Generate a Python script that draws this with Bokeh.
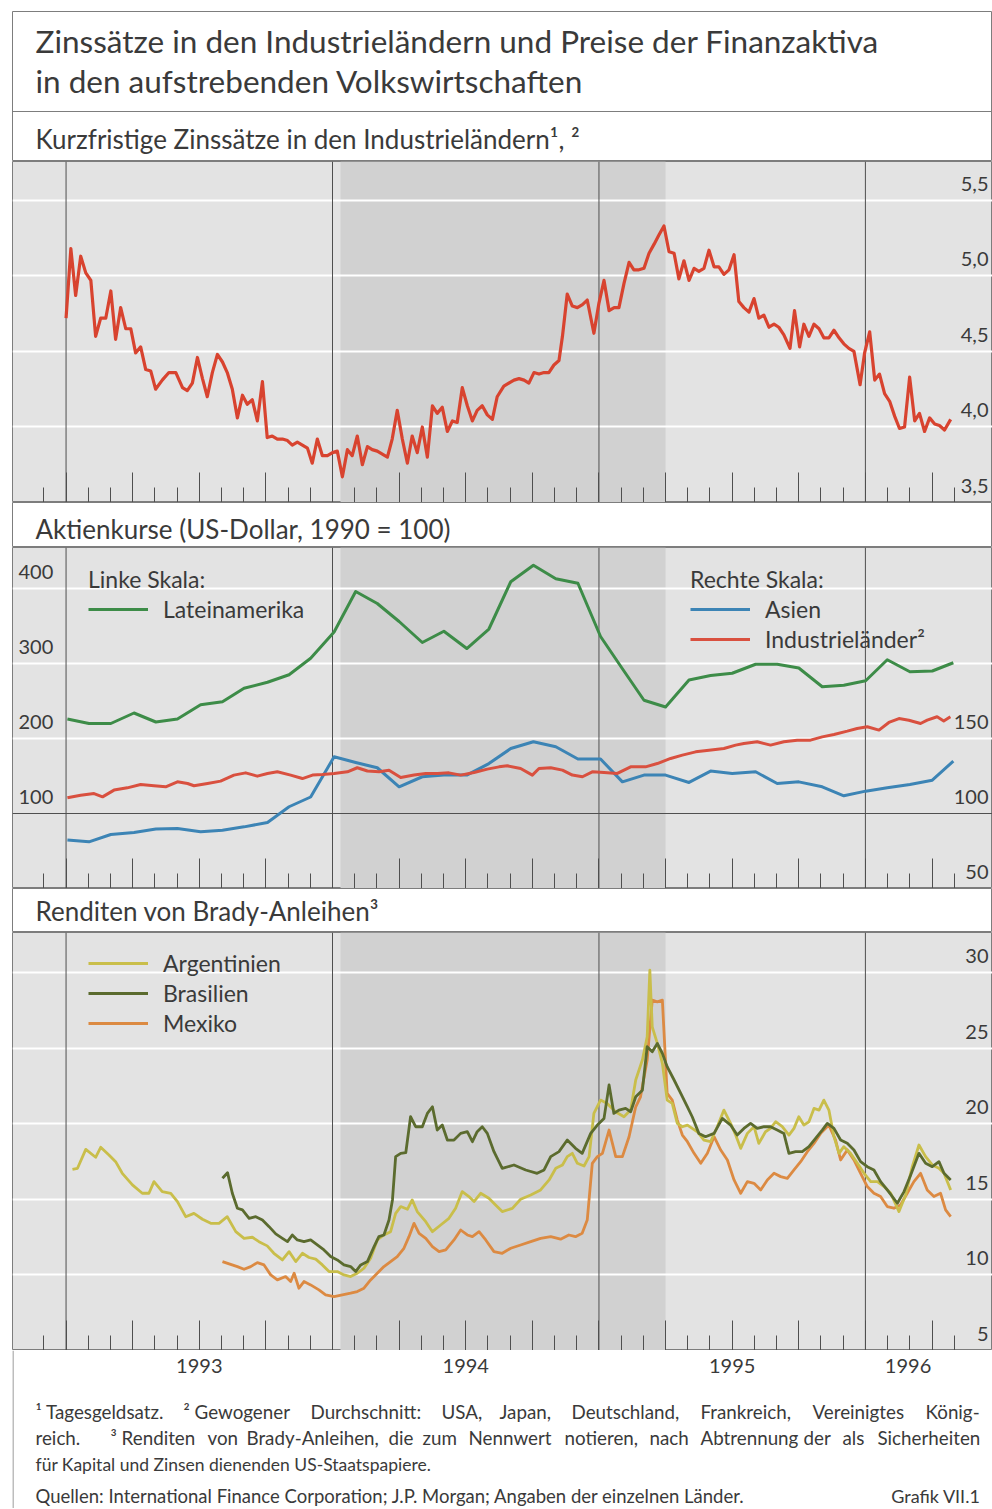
from bokeh.plotting import figure
from bokeh.layouts import column
from bokeh.models import (Range1d, LinearAxis, FixedTicker, Grid, Span, BoxAnnotation,
                          Legend, LegendItem, CustomJSTickFormatter)
from bokeh.core.properties import value
from bokeh.embed import file_html
from bokeh.resources import INLINE

# ---------------- data ----------------
YEARS = [1993, 1994, 1995, 1996]
YEAR_LABELS = ["1993", "1994", "1995", "1996"]
SHADE = (1994.03, 1995.25)

# Panel 1: short-term rates, industrial countries (%)
ZINS_X = [
    1993.000, 1993.018, 1993.036, 1993.055, 1993.074, 1993.093, 1993.111, 1993.130, 1993.149, 1993.168,
    1993.186, 1993.205, 1993.224, 1993.243, 1993.261, 1993.280, 1993.299, 1993.318, 1993.336, 1993.361,
    1993.386, 1993.412, 1993.437, 1993.455, 1993.474, 1993.493, 1993.512, 1993.530, 1993.549, 1993.568,
    1993.587, 1993.605, 1993.624, 1993.643, 1993.662, 1993.680, 1993.699, 1993.718, 1993.737, 1993.755,
    1993.774, 1993.793, 1993.812, 1993.831, 1993.849, 1993.868, 1993.887, 1993.906, 1993.924, 1993.943,
    1993.962, 1993.981, 1994.000, 1994.018, 1994.037, 1994.056, 1994.074, 1994.093, 1994.112, 1994.131,
    1994.149, 1994.168, 1994.187, 1994.206, 1994.224, 1994.243, 1994.262, 1994.281, 1994.299, 1994.318,
    1994.337, 1994.356, 1994.375, 1994.393, 1994.412, 1994.431, 1994.450, 1994.468, 1994.487, 1994.506,
    1994.525, 1994.543, 1994.562, 1994.581, 1994.600, 1994.618, 1994.643, 1994.681, 1994.700, 1994.719,
    1994.737, 1994.756, 1994.775, 1994.794, 1994.812, 1994.831, 1994.850, 1994.863, 1994.881, 1994.900,
    1994.919, 1994.938, 1994.956, 1994.981, 1995.000, 1995.019, 1995.038, 1995.057, 1995.075, 1995.094,
    1995.113, 1995.131, 1995.150, 1995.169, 1995.188, 1995.207, 1995.225, 1995.244, 1995.263, 1995.282,
    1995.300, 1995.319, 1995.338, 1995.357, 1995.375, 1995.394, 1995.413, 1995.432, 1995.450, 1995.469,
    1995.488, 1995.507, 1995.525, 1995.544, 1995.563, 1995.582, 1995.600, 1995.619, 1995.638, 1995.657,
    1995.675, 1995.694, 1995.717, 1995.734, 1995.753, 1995.769, 1995.788, 1995.807, 1995.826, 1995.844,
    1995.863, 1995.882, 1995.901, 1995.919, 1995.938, 1995.957, 1995.980, 1995.997, 1996.016, 1996.035,
    1996.053, 1996.072, 1996.091, 1996.110, 1996.128, 1996.147, 1996.166, 1996.185, 1996.203, 1996.222,
    1996.241, 1996.260, 1996.278, 1996.297, 1996.320]
ZINS_Y = [
    4.72, 5.18, 4.87, 5.13, 5.02, 4.97, 4.60, 4.72, 4.72, 4.90,
    4.58, 4.79, 4.65, 4.65, 4.49, 4.53, 4.38, 4.37, 4.25, 4.31,
    4.36, 4.36, 4.26, 4.24, 4.29, 4.46, 4.32, 4.20, 4.36, 4.48,
    4.43, 4.36, 4.25, 4.06, 4.21, 4.15, 4.18, 4.04, 4.30, 3.93,
    3.94, 3.92, 3.92, 3.91, 3.88, 3.90, 3.88, 3.86, 3.76, 3.92,
    3.81, 3.81, 3.83, 3.84, 3.67, 3.85, 3.81, 3.94, 3.75, 3.87,
    3.85, 3.84, 3.82, 3.80, 3.92, 4.11, 3.92, 3.76, 3.94, 3.83,
    4.00, 3.80, 4.14, 4.09, 4.13, 3.97, 4.04, 4.03, 4.26, 4.14,
    4.04, 4.11, 4.14, 4.08, 4.05, 4.20, 4.27, 4.31, 4.32, 4.31,
    4.29, 4.36, 4.35, 4.36, 4.36, 4.41, 4.44, 4.60, 4.88, 4.80,
    4.79, 4.81, 4.84, 4.62, 4.82, 4.97, 4.77, 4.79, 4.79, 4.95,
    5.09, 5.04, 5.04, 5.05, 5.15, 5.21, 5.27, 5.33, 5.16, 5.15,
    4.98, 5.10, 4.97, 5.05, 5.03, 5.05, 5.17, 5.06, 5.06, 5.01,
    5.04, 5.14, 4.83, 4.79, 4.76, 4.85, 4.72, 4.74, 4.66, 4.68,
    4.66, 4.61, 4.52, 4.77, 4.53, 4.68, 4.60, 4.68, 4.65, 4.59,
    4.59, 4.64, 4.59, 4.55, 4.52, 4.50, 4.28, 4.49, 4.63, 4.31,
    4.35, 4.22, 4.17, 4.07, 3.99, 4.00, 4.33, 4.04, 4.09, 3.97,
    4.06, 4.02, 4.01, 3.98, 4.05]
ZINS_TICKS = [3.5, 4.0, 4.5, 5.0, 5.5]
ZINS_LABELS = ["3,5", "4,0", "4,5", "5,0", "5,5"]

# Panel 2: share prices (US dollar, 1990 = 100), monthly
AKT_X = [
    1993.005, 1993.086, 1993.168, 1993.255, 1993.337, 1993.418, 1993.505, 1993.587, 1993.668, 1993.756,
    1993.837, 1993.918, 1994.006, 1994.087, 1994.168, 1994.250, 1994.337, 1994.418, 1994.504, 1994.587,
    1994.669, 1994.754, 1994.838, 1994.921, 1995.006, 1995.088, 1995.169, 1995.250, 1995.338, 1995.419,
    1995.500, 1995.588, 1995.669, 1995.750, 1995.838, 1995.919, 1996.001, 1996.082, 1996.167, 1996.251,
    1996.330]
LATAM = [
    226, 220, 220, 234, 222, 226, 245, 249, 267, 275,
    285, 307, 342, 396, 380, 356, 328, 343, 320, 346,
    409, 431, 413, 407, 336, 293, 251, 242, 278, 284,
    287, 299, 299, 294, 269, 271, 277, 305, 289, 290,
    301]
ASIEN = [
    82.3, 81.1, 86.0, 87.4, 89.6, 90.0, 87.8, 88.9, 91.1, 94.0,
    104.5, 111.0, 137.8, 134.0, 130.5, 117.8, 124.5, 125.6, 125.6, 133.3,
    143.3, 147.8, 144.5, 136.3, 136.3, 121.1, 125.6, 125.6, 120.7, 128.3,
    126.7, 127.8, 120.0, 121.1, 117.8, 111.8, 114.9, 117.1, 119.3, 122.2,
    134.9]
INDU_X = [
    1993.005, 1993.055, 1993.105, 1993.137, 1993.180, 1993.230, 1993.280, 1993.330, 1993.374, 1993.418,
    1993.456, 1993.480, 1993.531, 1993.580, 1993.630, 1993.674, 1993.718, 1993.756, 1993.793, 1993.843,
    1993.887, 1993.925, 1993.962, 1994.006, 1994.056, 1994.093, 1994.131, 1994.175, 1994.212, 1994.256,
    1994.306, 1994.350, 1994.394, 1994.437, 1994.481, 1994.531, 1994.581, 1994.625, 1994.656, 1994.706,
    1994.750, 1994.775, 1994.819, 1994.863, 1994.900, 1994.938, 1994.975, 1995.019, 1995.069, 1995.119,
    1995.175, 1995.219, 1995.269, 1995.313, 1995.363, 1995.413, 1995.469, 1995.513, 1995.544, 1995.594,
    1995.644, 1995.694, 1995.744, 1995.794, 1995.838, 1995.882, 1995.932, 1995.969, 1996.007, 1996.051,
    1996.088, 1996.126, 1996.163, 1996.207, 1996.232, 1996.269, 1996.294, 1996.319]
INDU_Y = [
    110.5, 112.2, 113.3, 111.1, 115.6, 117.1, 119.3, 118.5, 117.8, 121.1,
    120.0, 118.5, 120.0, 121.6, 125.6, 127.1, 124.9, 126.7, 127.8, 125.6,
    123.3, 125.6, 126.0, 126.7, 127.8, 130.5, 128.3, 127.8, 128.9, 124.0,
    125.6, 126.7, 126.7, 127.1, 125.6, 127.3, 129.6, 131.1, 131.8, 130.0,
    125.6, 130.0, 130.5, 128.9, 125.6, 124.5, 127.8, 127.3, 126.7, 131.1,
    131.1, 133.3, 136.7, 138.9, 141.1, 142.2, 143.3, 145.6, 146.7, 147.8,
    145.6, 147.8, 148.9, 148.9, 151.1, 152.7, 154.9, 156.7, 157.8, 155.6,
    160.7, 163.3, 162.2, 160.0, 162.2, 164.5, 161.7, 164.5]
AKT_LEFT_TICKS = [100, 200, 300, 400]
AKT_LEFT_LABELS = ["100", "200", "300", "400"]
AKT_RIGHT_TICKS = [50, 100, 150]
AKT_RIGHT_LABELS = ["50", "100", "150"]

# Panel 3: Brady bond yields (%)
ARG_X = [
    1993.024, 1993.043, 1993.074, 1993.111, 1993.130, 1993.161, 1993.186, 1993.211, 1993.249, 1993.286,
    1993.311, 1993.330, 1993.361, 1993.393, 1993.418, 1993.449, 1993.480, 1993.512, 1993.543, 1993.574,
    1993.605, 1993.637, 1993.668, 1993.699, 1993.724, 1993.755, 1993.780, 1993.812, 1993.837, 1993.862,
    1993.887, 1993.912, 1993.937, 1993.962, 1993.987, 1994.018, 1994.043, 1994.068, 1994.093, 1994.118,
    1994.143, 1994.168, 1994.193, 1994.218, 1994.237, 1994.256, 1994.281, 1994.299, 1994.318, 1994.350,
    1994.375, 1994.406, 1994.437, 1994.462, 1994.487, 1994.512, 1994.531, 1994.556, 1994.587, 1994.612,
    1994.637, 1994.675, 1994.706, 1994.744, 1994.781, 1994.813, 1994.838, 1994.863, 1994.881, 1994.900,
    1994.919, 1994.944, 1994.963, 1994.981, 1995.006, 1995.031, 1995.062, 1995.094, 1995.119, 1995.138,
    1995.163, 1995.181, 1995.191, 1995.200, 1995.219, 1995.238, 1995.256, 1995.275, 1995.294, 1995.313,
    1995.332, 1995.350, 1995.369, 1995.394, 1995.419, 1995.444, 1995.469, 1995.494, 1995.513, 1995.532,
    1995.557, 1995.582, 1995.600, 1995.625, 1995.644, 1995.663, 1995.688, 1995.713, 1995.732, 1995.750,
    1995.769, 1995.788, 1995.807, 1995.826, 1995.844, 1995.863, 1995.882, 1995.901, 1995.919, 1995.944,
    1995.970, 1995.995, 1996.020, 1996.045, 1996.070, 1996.095, 1996.126, 1996.151, 1996.176, 1996.201,
    1996.226, 1996.251, 1996.276, 1996.295, 1996.320]
ARG_Y = [
    16.98, 17.05, 18.30, 17.78, 18.44, 17.93, 17.49, 16.72, 15.95, 15.40,
    15.40, 16.17, 15.51, 15.40, 14.85, 13.85, 14.07, 13.68, 13.41, 13.41,
    13.85, 12.86, 12.42, 12.49, 12.20, 11.92, 11.43, 10.99, 11.54, 10.88,
    11.43, 11.15, 11.04, 10.66, 10.22, 10.22, 10.00, 9.89, 10.11, 10.44,
    11.10, 12.31, 12.64, 12.86, 14.07, 14.52, 14.34, 14.96, 14.19, 13.52,
    12.86, 13.30, 13.74, 14.41, 15.51, 15.18, 14.85, 15.40, 15.07, 14.63,
    14.19, 14.40, 15.00, 15.29, 15.62, 16.28, 17.05, 17.27, 17.82, 18.04,
    17.38, 17.20, 17.82, 20.68, 21.56, 21.34, 20.79, 20.46, 20.90, 22.89,
    24.21, 25.75, 30.15, 26.41, 25.31, 23.99, 21.56, 21.34, 20.02, 19.80,
    19.91, 19.69, 19.47, 18.92, 18.81, 19.80, 20.90, 20.02, 19.25, 18.37,
    19.36, 19.80, 18.70, 19.47, 19.69, 20.13, 19.80, 19.25, 19.69, 20.46,
    19.91, 20.13, 21.01, 20.90, 21.56, 20.90, 19.14, 18.04, 18.48, 18.04,
    17.38, 16.72, 16.17, 16.17, 15.84, 15.40, 14.19, 15.29, 17.16, 18.59,
    17.82, 17.27, 17.05, 16.72, 15.62]
BRA_X = [
    1993.587, 1993.606, 1993.624, 1993.643, 1993.662, 1993.687, 1993.712, 1993.737, 1993.762, 1993.787,
    1993.812, 1993.831, 1993.849, 1993.868, 1993.893, 1993.918, 1993.943, 1993.968, 1993.993, 1994.018,
    1994.043, 1994.068, 1994.087, 1994.106, 1994.131, 1994.156, 1994.174, 1994.193, 1994.212, 1994.225,
    1994.237, 1994.256, 1994.275, 1994.293, 1994.312, 1994.337, 1994.356, 1994.375, 1994.393, 1994.412,
    1994.431, 1994.456, 1994.481, 1994.506, 1994.525, 1994.543, 1994.562, 1994.581, 1994.606, 1994.637,
    1994.681, 1994.725, 1994.768, 1994.794, 1994.819, 1994.850, 1994.881, 1994.912, 1994.937, 1994.969,
    1994.994, 1995.019, 1995.038, 1995.056, 1995.075, 1995.100, 1995.119, 1995.138, 1995.163, 1995.181,
    1995.200, 1995.219, 1995.238, 1995.256, 1995.282, 1995.307, 1995.332, 1995.350, 1995.375, 1995.400,
    1995.432, 1995.463, 1995.494, 1995.519, 1995.544, 1995.569, 1995.594, 1995.619, 1995.644, 1995.669,
    1995.694, 1995.713, 1995.738, 1995.763, 1995.788, 1995.813, 1995.838, 1995.857, 1995.882, 1995.907,
    1995.932, 1995.957, 1995.982, 1996.007, 1996.032, 1996.057, 1996.082, 1996.120, 1996.145, 1996.170,
    1996.201, 1996.226, 1996.251, 1996.276, 1996.295, 1996.320]
BRA_Y = [
    16.39, 16.76, 15.40, 14.41, 14.30, 13.74, 13.85, 13.63, 13.19, 12.71,
    12.42, 12.20, 12.64, 12.31, 12.20, 12.31, 11.98, 11.65, 11.21, 10.99,
    10.66, 10.55, 10.22, 10.66, 10.88, 11.87, 12.53, 12.64, 13.63, 14.96,
    17.82, 18.04, 18.08, 20.46, 19.80, 19.80, 20.68, 21.12, 19.58, 19.91,
    18.92, 18.92, 19.36, 19.47, 18.81, 19.47, 19.80, 19.36, 18.15, 17.05,
    17.27, 16.94, 16.72, 16.94, 17.82, 18.15, 18.92, 18.37, 18.04, 19.36,
    19.91, 20.35, 22.56, 20.68, 20.90, 21.01, 20.79, 21.78, 22.22, 25.09,
    24.76, 25.31, 24.65, 23.77, 22.89, 22.00, 21.12, 20.46, 19.36, 19.14,
    19.36, 20.35, 19.91, 19.25, 19.69, 20.02, 19.69, 19.80, 19.80, 19.58,
    19.36, 18.04, 18.15, 18.15, 18.48, 19.03, 19.58, 20.02, 19.69, 18.92,
    18.70, 18.26, 17.49, 17.16, 16.94, 16.17, 15.62, 14.74, 15.51, 16.61,
    18.04, 17.38, 17.16, 17.49, 16.72, 16.28]
MEX_X = [
    1993.587, 1993.612, 1993.643, 1993.668, 1993.693, 1993.718, 1993.743, 1993.768, 1993.793, 1993.824,
    1993.843, 1993.856, 1993.874, 1993.893, 1993.918, 1993.949, 1993.974, 1994.006, 1994.037, 1994.068,
    1994.093, 1994.118, 1994.143, 1994.168, 1994.193, 1994.218, 1994.243, 1994.268, 1994.287, 1994.306,
    1994.325, 1994.350, 1994.375, 1994.400, 1994.425, 1994.456, 1994.481, 1994.506, 1994.525, 1994.550,
    1994.575, 1994.606, 1994.637, 1994.669, 1994.706, 1994.744, 1994.781, 1994.819, 1994.856, 1994.887,
    1994.912, 1994.937, 1994.956, 1994.975, 1994.994, 1995.013, 1995.038, 1995.063, 1995.088, 1995.113,
    1995.138, 1995.156, 1995.181, 1995.200, 1995.219, 1995.238, 1995.256, 1995.275, 1995.294, 1995.313,
    1995.332, 1995.357, 1995.382, 1995.407, 1995.432, 1995.457, 1995.482, 1995.507, 1995.532, 1995.557,
    1995.582, 1995.607, 1995.632, 1995.657, 1995.682, 1995.707, 1995.732, 1995.757, 1995.782, 1995.807,
    1995.832, 1995.863, 1995.888, 1995.907, 1995.932, 1995.957, 1995.982, 1996.007, 1996.032, 1996.057,
    1996.082, 1996.107, 1996.132, 1996.157, 1996.182, 1996.207, 1996.232, 1996.257, 1996.282, 1996.301,
    1996.320]
MEX_Y = [
    10.88, 10.73, 10.55, 10.37, 10.55, 10.81, 10.66, 10.00, 9.67, 9.89,
    9.56, 10.11, 9.12, 9.56, 9.34, 9.01, 8.68, 8.57, 8.68, 8.79,
    8.90, 9.12, 9.67, 10.11, 10.55, 10.88, 11.21, 11.76, 12.53, 13.41,
    12.75, 12.42, 11.87, 11.54, 11.65, 12.31, 12.97, 12.64, 12.53, 12.86,
    12.31, 11.54, 11.43, 11.76, 11.98, 12.20, 12.42, 12.53, 12.36, 12.64,
    12.53, 12.75, 13.63, 17.38, 17.82, 18.04, 19.58, 17.82, 17.82, 19.14,
    21.12, 21.78, 24.21, 28.17, 28.06, 28.17, 22.00, 21.56, 20.24, 19.25,
    18.81, 18.04, 17.38, 18.04, 19.14, 18.26, 17.60, 16.28, 15.40, 16.17,
    16.06, 15.62, 16.28, 16.72, 16.50, 16.39, 16.94, 17.49, 18.15, 18.70,
    19.36, 19.91, 18.92, 17.60, 18.26, 17.60, 16.72, 15.84, 15.40, 15.18,
    14.52, 14.41, 14.63, 15.40, 16.17, 16.72, 15.62, 15.18, 15.40, 14.30,
    13.85]
BRADY_TICKS = [5, 10, 15, 20, 25, 30]
BRADY_LABELS = ["5", "10", "15", "20", "25", "30"]

# ---------------- text ----------------
TITLE_1 = "Zinssätze in den Industrieländern und Preise der Finanzaktiva"
TITLE_2 = "in den aufstrebenden Volkswirtschaften"
SUB_1 = "Kurzfristige Zinssätze in den Industrieländern¹, ²"
SUB_2 = "Aktienkurse (US-Dollar, 1990 = 100)"
SUB_3 = "Renditen von Brady-Anleihen³"
FOOT_1 = ["¹ Tagesgeldsatz.", "² Gewogener", "Durchschnitt:", "USA,", "Japan,", "Deutschland,",
          "Frankreich,", "Vereinigtes", "König-"]
FOOT_1_X = [23, 171, 298, 429, 487, 559, 688, 800, 913]
FOOT_2 = ["reich.", "³ Renditen", "von", "Brady-Anleihen,", "die", "zum", "Nennwert", "notieren,",
          "nach", "Abtrennung", "der", "als", "Sicherheiten"]
FOOT_2_X = [23, 98, 195, 234, 376, 410, 456, 552, 637, 688, 791, 830, 865]
FOOT_3 = "für Kapital und Zinsen dienenden US-Staatspapiere."
SOURCES = "Quellen: International Finance Corporation; J.P. Morgan; Angaben der einzelnen Länder."
GRAFIK = "Grafik VII.1"

# ---------------- style ----------------
FONT = "Lato"
TXT = "#3a3a3a"
FRAME = "#7d7d7d"
DARK = "#4f4f4f"
BG = "#e3e3e3"
SHADE_C = "#d1d1d1"
W = 992
LEFT = 12
X_START, X_END = 1992.799, 1996.477
MONTH_TICKS = [1992 + 11 / 12] + [y + m / 12 for y in (1993, 1994, 1995) for m in range(12)] + \
              [1996 + m / 12 for m in range(5)]
QUARTER_TICKS = [y + q / 4 for y in (1993, 1994, 1995) for q in range(4)] + [1996.0, 1996.25]
LABEL_LIFT = 16.5  # px between tick line and label centre


def make_panel(h, y0, y1, grid_vals):
    p = figure(width=W, height=h, x_range=Range1d(X_START, X_END), y_range=Range1d(y0, y1),
               x_axis_type=None, y_axis_type=None, toolbar_location=None,
               output_backend="svg", min_border=0, min_border_left=LEFT)
    p.background_fill_color = BG
    p.border_fill_color = "white"
    p.outline_line_color = FRAME
    p.add_layout(BoxAnnotation(left=SHADE[0], right=SHADE[1], fill_color=SHADE_C, fill_alpha=1.0,
                               line_alpha=0, level="image"))
    p.add_layout(Grid(dimension=1, ticker=FixedTicker(ticks=grid_vals), grid_line_color="white",
                      grid_line_width=2, level="underlay"))
    for yr in YEARS:
        p.add_layout(Span(location=yr, dimension="height", line_color=DARK, line_width=1,
                          level="underlay"))
    ax = LinearAxis(ticker=FixedTicker(ticks=QUARTER_TICKS, minor_ticks=MONTH_TICKS),
                    major_tick_in=30, major_tick_out=0, minor_tick_in=15, minor_tick_out=0,
                    major_tick_line_color=DARK, minor_tick_line_color=DARK, axis_line_color=DARK,
                    major_label_text_font_size="0px", major_label_standoff=0,
                    formatter=CustomJSTickFormatter(code="return ''"))
    p.add_layout(ax, "below")
    return p


def tick_text(p, vals, labels, side, y0, y1, h, range_name="default"):
    lift = LABEL_LIFT * (y1 - y0) / h
    ys = [v + lift for v in vals]
    if side == "right":
        xs, align, xo = [X_END] * len(vals), "right", -4
    else:
        xs, align, xo = [X_START] * len(vals), "left", 6
    p.text(x=xs, y=ys, text=labels, text_align=align, text_baseline="middle",
           x_offset=xo, text_font=value(FONT), text_font_size="20px",
           text_color=TXT, y_range_name=range_name)


def text_fig(h, top=0):
    f = figure(width=W, height=h, x_range=Range1d(0, W - LEFT), y_range=Range1d(h - top, 0),
               x_axis_type=None, y_axis_type=None, toolbar_location=None,
               output_backend="svg", min_border=0, min_border_left=LEFT, min_border_top=top)
    f.background_fill_color = "white"
    f.border_fill_color = "white"
    f.outline_line_color = FRAME
    return f


def style_legend(leg):
    leg.label_text_font = FONT
    leg.label_text_font_size = "23px"
    leg.label_text_color = TXT
    leg.title_text_font = FONT
    leg.title_text_font_size = "23px"
    leg.title_text_font_style = "normal"
    leg.title_text_color = TXT
    leg.title_standoff = 2
    leg.glyph_width = 60
    leg.glyph_height = 20
    leg.label_height = 20
    leg.label_standoff = 15
    leg.spacing = 2
    leg.padding = 0
    leg.margin = 0
    leg.background_fill_alpha = 0
    leg.border_line_alpha = 0


# ---------------- header ----------------
header = text_fig(161, top=11)
header.add_layout(Span(location=100, dimension="width", line_color=FRAME, line_width=1))
header.text(x=[23, 23], y=[29, 69], text=[TITLE_1, TITLE_2], text_baseline="middle",
            text_font=value(FONT), text_font_size="31.5px", text_color=TXT)
header.text(x=[23], y=[127], text=[SUB_1], text_baseline="middle",
            text_font=value(FONT), text_font_size="26px", text_color=TXT)

# ---------------- panel 1 ----------------
P1 = (341, 3.5, 5.757)
p1 = make_panel(*P1, [4.0, 4.5, 5.0, 5.5])
p1.line(ZINS_X, ZINS_Y, line_color="#d8432f", line_width=3.2, line_join="round")
tick_text(p1, ZINS_TICKS, ZINS_LABELS, "right", P1[1], P1[2], P1[0])

# ---------------- panel 2 ----------------
band2 = text_fig(45)
band2.text(x=[23], y=[26], text=[SUB_2], text_baseline="middle",
           text_font=value(FONT), text_font_size="26px", text_color=TXT)

P2 = (341, 0, 454.67)
R2 = (50, 50 + 454.67 / 2)
p2 = make_panel(*P2, [200, 300, 400])
p2.extra_y_ranges = {"right": Range1d(*R2)}
p2.add_layout(Span(location=100, dimension="width", line_color=DARK, line_width=1, level="underlay"))
r_lat = p2.line(AKT_X, LATAM, line_color="#3d8c48", line_width=3, line_join="round")
r_asi = p2.line(AKT_X, ASIEN, line_color="#3c84b5", line_width=3, line_join="round",
                y_range_name="right")
r_ind = p2.line(INDU_X, INDU_Y, line_color="#d9503f", line_width=3, line_join="round",
                y_range_name="right")
tick_text(p2, AKT_LEFT_TICKS, AKT_LEFT_LABELS, "left", P2[1], P2[2], P2[0])
tick_text(p2, AKT_RIGHT_TICKS, AKT_RIGHT_LABELS, "right", R2[0], R2[1], P2[0], "right")
leg_l = Legend(items=[LegendItem(label="Lateinamerika", renderers=[r_lat])],
               location=(76, 265), title="Linke Skala:")
leg_r = Legend(items=[LegendItem(label="Asien", renderers=[r_asi]),
                      LegendItem(label="Industrieländer²", renderers=[r_ind])],
               location=(678, 235), title="Rechte Skala:")
for lg in (leg_l, leg_r):
    style_legend(lg)
    p2.add_layout(lg)

# ---------------- panel 3 ----------------
band3 = text_fig(44)
band3.text(x=[23], y=[22], text=[SUB_3], text_baseline="middle",
           text_font=value(FONT), text_font_size="26px", text_color=TXT)

P3 = (418, 5, 32.646)
p3 = make_panel(*P3, [10, 15, 20, 25, 30])
r_mex = p3.line(MEX_X, MEX_Y, line_color="#dc8a42", line_width=2.8, line_join="round")
r_arg = p3.line(ARG_X, ARG_Y, line_color="#c9be4a", line_width=2.8, line_join="round")
r_bra = p3.line(BRA_X, BRA_Y, line_color="#5b6b2e", line_width=2.8, line_join="round")
tick_text(p3, BRADY_TICKS, BRADY_LABELS, "right", P3[1], P3[2], P3[0])
leg3 = Legend(items=[LegendItem(label="Argentinien", renderers=[r_arg]),
                     LegendItem(label="Brasilien", renderers=[r_bra]),
                     LegendItem(label="Mexiko", renderers=[r_mex])],
              location=(76, 313))
style_legend(leg3)
p3.add_layout(leg3)

# ---------------- footer ----------------
FH = 158
footer = figure(width=W, height=FH, x_range=Range1d(0, W - LEFT), y_range=Range1d(FH, 0),
                x_axis_type=None, y_axis_type=None, toolbar_location=None,
                output_backend="svg", min_border=0, min_border_left=LEFT)
footer.background_fill_color = "white"
footer.border_fill_color = "white"
footer.outline_line_color = None
footer.extra_x_ranges = {"t": Range1d(X_START, X_END)}
footer.add_layout(Span(location=0.5, dimension="height", line_color=FRAME, line_width=1))
year_pos = [YEARS[0] + 0.5, YEARS[1] + 0.5, YEARS[2] + 0.5, (YEARS[3] + max(ZINS_X)) / 2]
footer.text(x=year_pos, y=[15] * 4, text=YEAR_LABELS, x_range_name="t", text_align="center",
            text_baseline="middle", text_font=value(FONT), text_font_size="20px", text_color=TXT)
just_kw = dict(text_baseline="middle", text_font=value(FONT), text_font_size="18.8px",
               text_color=TXT)
foot_kw = dict(text_baseline="middle", text_font=value(FONT), text_font_size="17.5px",
               text_color=TXT)
footer.text(x=FOOT_1_X, y=[61] * len(FOOT_1), text=FOOT_1, **just_kw)
footer.text(x=FOOT_2_X, y=[87] * len(FOOT_2), text=FOOT_2, **just_kw)
footer.text(x=[23], y=[114], text=[FOOT_3], **foot_kw)
footer.text(x=[23], y=[145], text=[SOURCES], text_baseline="middle", text_font=value(FONT),
            text_font_size="18.5px", text_color=TXT)
footer.text(x=[968], y=[145], text=[GRAFIK], text_align="right", text_baseline="middle",
            text_font=value(FONT), text_font_size="18px", text_color=TXT)

layout = column(header, p1, band2, p2, band3, p3, footer, spacing=0)
open("out.html", "w").write(file_html(layout, INLINE))
